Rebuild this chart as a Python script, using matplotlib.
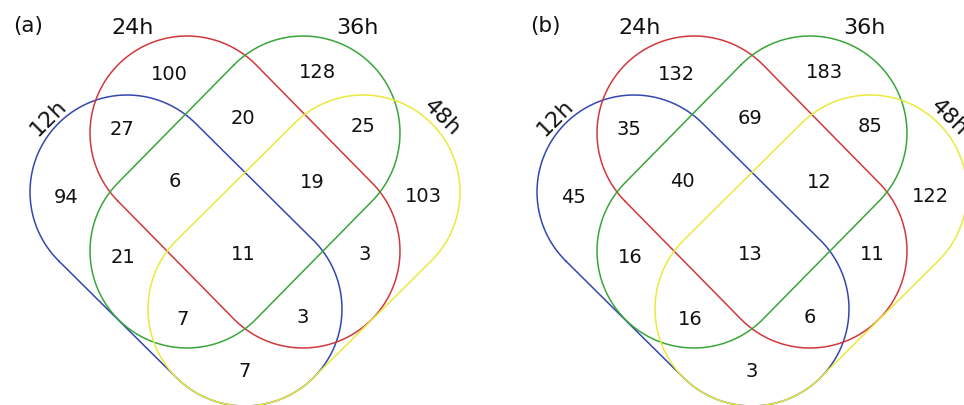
import numpy as np
import matplotlib
matplotlib.use("Agg")
import matplotlib.pyplot as plt

# set names and colours (12h blue, 24h red, 36h green, 48h yellow)
set_names = ["12h", "24h", "36h", "48h"]
set_colors = ["#3347b0", "#d0383c", "#3aa53a", "#eaea3c"]

# region keys: one flag per set, in set_names order
regions = ["1000", "0100", "0010", "0001",
           "1100", "0110", "0011", "1001",
           "1110", "0111", "1010", "0101",
           "1011", "1101", "1111"]
counts_a = [94, 100, 128, 103, 27, 20, 25, 7, 6, 19, 21, 3, 7, 3, 11]
counts_b = [45, 132, 183, 122, 35, 69, 85, 3, 40, 12, 16, 11, 16, 6, 13]
panel_labels = ["(a)", "(b)"]

# layout (pixel units, y down) for one panel
cap_r = 97
caps = {
    "12h": ((127, 193), (245, 310)),
    "24h": ((187, 134), (303, 252)),
    "36h": ((303, 134), (187, 252)),
    "48h": ((363, 193), (245, 310)),
}
region_xy = {
    "1000": (66, 198), "0100": (169, 75), "0010": (317, 73), "0001": (423, 197),
    "1100": (122, 130), "0110": (243, 118), "0011": (363, 127), "1001": (245, 372),
    "1110": (175, 182), "0111": (312, 183), "1010": (123, 258), "0101": (365, 255),
    "1011": (183, 320), "1101": (303, 318), "1111": (243, 255),
}
name_xy = {"12h": (48, 118, 45), "24h": (133, 28, 0),
           "36h": (357, 28, 0), "48h": (442, 118, -45)}
panel_dx = [0, 507]
panel_label_xy = [(28, 26), (545, 26)]


def stadium(c1, c2, r, n=120):
    c1, c2 = np.asarray(c1, float), np.asarray(c2, float)
    d = c2 - c1
    ang = np.arctan2(d[1], d[0])
    t1 = np.linspace(ang + np.pi / 2, ang + 3 * np.pi / 2, n)
    t2 = np.linspace(ang - np.pi / 2, ang + np.pi / 2, n)
    xs = np.concatenate([c1[0] + r * np.cos(t1), c2[0] + r * np.cos(t2), [c1[0] + r * np.cos(t1[0])]])
    ys = np.concatenate([c1[1] + r * np.sin(t1), c2[1] + r * np.sin(t2), [c1[1] + r * np.sin(t1[0])]])
    return xs, ys


fig = plt.figure(figsize=(9.64, 4.06), dpi=100)
ax = fig.add_axes([0, 0, 1, 1])
ax.set_xlim(0, 964)
ax.set_ylim(406, 0)
ax.axis("off")

for p, counts in enumerate([counts_a, counts_b]):
    dx = panel_dx[p]
    for name, col in zip(set_names, set_colors):
        c1, c2 = caps[name]
        xs, ys = stadium(c1, c2, cap_r)
        ax.plot(xs + dx, ys, color=col, lw=1.1, solid_capstyle="round")
    for key, val in zip(regions, counts):
        x, y = region_xy[key]
        ax.text(x + dx, y, str(val), ha="center", va="center", fontsize=14, color="#111111")
    for name in set_names:
        x, y, rot = name_xy[name]
        ax.text(x + dx, y, name, ha="center", va="center", fontsize=16,
                rotation=rot, rotation_mode="anchor", color="#111111")
    lx, ly = panel_label_xy[p]
    ax.text(lx, ly, panel_labels[p], ha="center", va="center", fontsize=15.5, color="#111111")

fig.savefig("out.png", dpi=100, facecolor="white")
